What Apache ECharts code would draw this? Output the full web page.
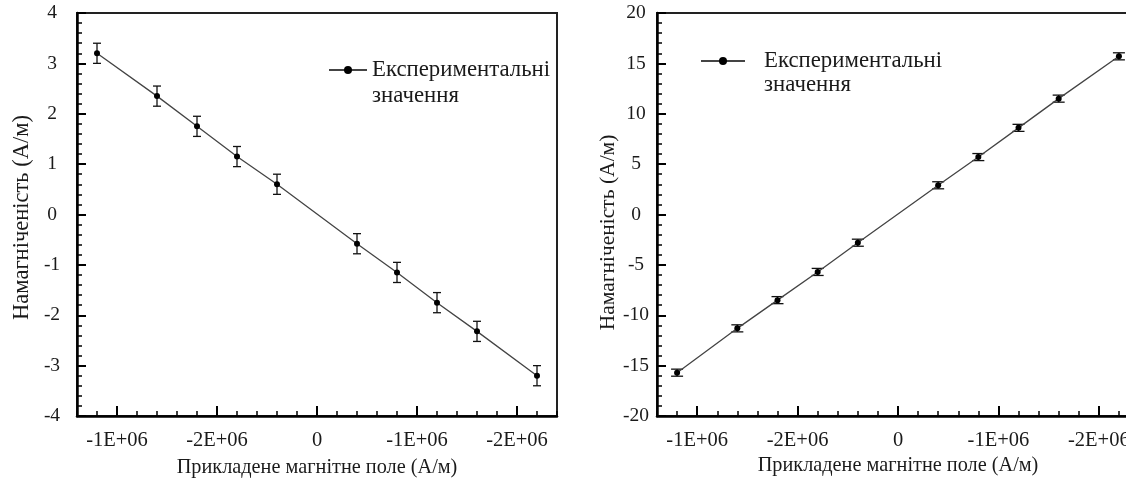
<!DOCTYPE html>
<html><head><meta charset="utf-8">
<script src="https://cdn.jsdelivr.net/npm/echarts@6/dist/echarts.min.js"></script>
<style>html,body{margin:0;padding:0;background:#fff}#c{width:1126px;height:480px}</style>
</head><body><div id="c"></div>
<script>
// ---- data ----
const fieldX = [-2.2, -1.6, -1.2, -0.8, -0.4, 0.4, 0.8, 1.2, 1.6, 2.2];
const magLeft = [3.2, 2.35, 1.75, 1.15, 0.6, -0.58, -1.15, -1.75, -2.32, -3.2];
const errLeft = [0.2, 0.2, 0.2, 0.2, 0.2, 0.2, 0.2, 0.2, 0.2, 0.2];
const magRight = [-15.7, -11.3, -8.5, -5.7, -2.8, 2.9, 5.7, 8.6, 11.5, 15.7];
const errRight = [0.35, 0.35, 0.35, 0.35, 0.35, 0.35, 0.35, 0.35, 0.35, 0.35];
const xTickValues = [-2, -1, 0, 1, 2];
const xTickLabels = ['-1E+06', '-2E+06', '0', '-1E+06', '-2E+06'];
const legendLines = ['Експериментальні', 'значення'];
const xTitle = 'Прикладене магнітне поле (А/м)';
const yTitle = 'Намагніченість (А/м)';

const FONT = 'Liberation Serif';
const TXT = '#1a1a1a';

function errRender(capHalf) {
  return function (params, api) {
    const x = api.value(0), y = api.value(1), e = api.value(2);
    const t = api.coord([x, y + e]), b = api.coord([x, y - e]);
    const style = { stroke: '#111', lineWidth: 1.3 };
    return { type: 'group', children: [
      { type: 'line', shape: { x1: t[0], y1: t[1], x2: b[0], y2: b[1] }, style },
      { type: 'line', shape: { x1: t[0] - capHalf, y1: t[1], x2: t[0] + capHalf, y2: t[1] }, style },
      { type: 'line', shape: { x1: b[0] - capHalf, y1: b[1], x2: b[0] + capHalf, y2: b[1] }, style }
    ]};
  };
}

function xAxesFor(gi, gap) {
  const base = { type: 'value', gridIndex: gi, min: -2.4, max: 2.4, interval: 0.2, position: 'bottom',
    splitLine: { show: false } };
  return [
    Object.assign({}, base, {
      name: xTitle, nameLocation: 'middle', nameGap: gap,
      nameTextStyle: { fontFamily: FONT, fontSize: 20.3, color: TXT },
      axisLine: { show: true, onZero: false, lineStyle: { color: '#000', width: 2.5 } },
      axisTick: { show: true, inside: true, length: 5, lineStyle: { color: '#000', width: 1.5 } },
      axisLabel: { show: true, customValues: xTickValues, margin: 14,
        fontFamily: FONT, fontSize: 20.5, color: TXT,
        formatter: v => { const i = xTickValues.indexOf(Math.round(v * 10) / 10); return i >= 0 ? xTickLabels[i] : ''; } }
    }),
    Object.assign({}, base, {
      axisLine: { show: false, onZero: false },
      axisTick: { show: true, inside: true, length: 10, customValues: xTickValues, lineStyle: { color: '#000', width: 2 } },
      axisLabel: { show: false }
    })
  ];
}

function yAxisFor(gi, min, max, interval, labelMargin, nameGap, nameSize, namePad) {
  return { type: 'value', gridIndex: gi, min, max, interval,
    name: yTitle, nameLocation: 'middle', nameGap,
    nameTextStyle: { fontFamily: FONT, fontSize: nameSize, color: TXT, padding: namePad },
    splitLine: { show: false },
    axisLine: { show: true, onZero: false, lineStyle: { color: '#000', width: 2.5 } },
    axisTick: { show: true, inside: true, length: 9, lineStyle: { color: '#000', width: 2 } },
    minorTick: { show: true, splitNumber: 5, length: 5, lineStyle: { color: '#000', width: 1.5 } },
    axisLabel: { margin: labelMargin, align: 'center', fontFamily: FONT, fontSize: 19.5, color: TXT }
  };
}

const legendFormatter = () => '\n' + legendLines.join('\n');

const option = {
  animation: false,
  backgroundColor: '#fff',
  grid: [
    { left: 77, right: 569, top: 13, bottom: 64, containLabel: false, outerBoundsMode: 'none',
      show: true, borderColor: '#222', borderWidth: 2, backgroundColor: 'transparent' },
    { left: 657, right: -13, top: 13, bottom: 64, containLabel: false, outerBoundsMode: 'none',
      show: true, borderColor: '#222', borderWidth: 2, backgroundColor: 'transparent' }
  ],
  xAxis: [...xAxesFor(0, 42), ...xAxesFor(1, 39)],
  yAxis: [
    yAxisFor(0, -4, 4, 1, 25, 43, 22.5, [0, 6, 0, 0]),
    yAxisFor(1, -20, 20, 5, 21, 35, 21.5, [0, 36, 0, 0])
  ],
  legend: [
    { left: 328, top: 31, padding: 0, itemWidth: 38, itemHeight: 10, formatter: legendFormatter,
      textStyle: { fontFamily: FONT, fontSize: 22.8, lineHeight: 26, color: TXT } },
    { left: 700, top: 25, padding: 0, itemWidth: 44, itemHeight: 10, formatter: legendFormatter,
      textStyle: { fontFamily: FONT, fontSize: 22.8, lineHeight: 24, color: TXT, padding: [0, 0, 0, 14] } }
  ],
  series: [
    { type: 'line', name: legendLines[0], xAxisIndex: 0, yAxisIndex: 0,
      data: fieldX.map((x, i) => [x, magLeft[i]]),
      symbol: 'circle', symbolSize: 6, itemStyle: { color: '#000' },
      lineStyle: { color: '#444', width: 1.3 } },
    { type: 'custom', xAxisIndex: 0, yAxisIndex: 0, renderItem: errRender(4), encode: { x: 0, y: 1 },
      data: fieldX.map((x, i) => [x, magLeft[i], errLeft[i]]), z: 3 },
    { type: 'line', name: legendLines[0], xAxisIndex: 2, yAxisIndex: 1,
      data: fieldX.map((x, i) => [x, magRight[i]]),
      symbol: 'circle', symbolSize: 6, itemStyle: { color: '#000' },
      lineStyle: { color: '#444', width: 1.3 } },
    { type: 'custom', xAxisIndex: 2, yAxisIndex: 1, renderItem: errRender(6), encode: { x: 0, y: 1 },
      data: fieldX.map((x, i) => [x, magRight[i], errRight[i]]), z: 3 }
  ]
};
echarts.init(document.getElementById('c'), null, { renderer: 'canvas' }).setOption(option);
</script></body></html>
